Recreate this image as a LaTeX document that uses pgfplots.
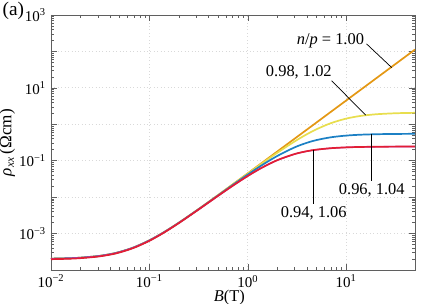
\documentclass[border=0pt]{standalone}
\usepackage{fontspec}
\setmainfont{Liberation Serif}
\usepackage{pgfplots}
\pgfplotsset{compat=1.18}
\definecolor{corange}{RGB}{228,152,20}
\definecolor{cyellow}{RGB}{232,222,78}
\definecolor{cblue}{RGB}{28,128,196}
\definecolor{cred}{RGB}{226,30,52}
\definecolor{cpurple}{RGB}{190,70,200}
\definecolor{cframe}{RGB}{95,95,95}
\begin{document}
\begin{tikzpicture}[font=\fontsize{11.5}{13}\selectfont]
\begin{axis}[name=ax,
  scale only axis, width=254.8pt, height=178.5pt,
  xmode=log, ymode=log,
  xmin=0.01, xmax=50, ymin=1e-4, ymax=1e3,
  axis line style={cframe, line width=0.6pt},
  tick style={cframe, line width=0.4pt},
  tick align=inside,
  major tick length=4pt, minor tick length=2pt,
  xtick={0.01,0.1,1,10},
  xticklabels={10\textsuperscript{−2},10\textsuperscript{−1},10\textsuperscript{0},10\textsuperscript{1}},
  ytick={1e-4,1e-3,1e-2,1e-1,1,10,100,1000},
  yticklabels={,10\textsuperscript{−3},,10\textsuperscript{−1},,10\textsuperscript{1},,10\textsuperscript{3}},
  ticklabel style={font=\fontsize{10.5}{12}\selectfont},
  grid=major,
  major grid style={gray!30, dotted, line width=0.5pt},
  xlabel={\textit{B}(T)},
  ylabel={\textit{ρ}\textsubscript{\textit{xx}}\,(Ωcm)},
  xlabel style={at={(ticklabel cs:0.49)}, yshift=5pt, font=\fontsize{11.5}{13}\selectfont},
  ylabel style={yshift=-4pt, font=\fontsize{12}{14}\selectfont},
  clip=true,
]
% n/p = 1.00
\addplot[corange, line width=1.2pt, smooth] coordinates {
(0.01,2.045e-4)(0.015,2.101e-4)(0.02,2.18e-4)(0.03,2.405e-4)(0.04,2.72e-4)(0.05,3.125e-4)(0.07,4.205e-4)(0.1,6.5e-4)(0.14,1.082e-3)(0.2,2.0e-3)(0.3,4.25e-3)(0.4,7.4e-3)(0.5,0.01145)(0.7,0.02225)(1,0.0452)(1.4,0.0884)(2,0.1802)(3,0.4052)(4,0.7202)(5,1.1252)(7,2.2052)(10,4.5002)(14,8.82)(20,18.0)(30,40.5)(40,72.0)(50,112.5)};
% 0.98, 1.02
\addplot[cyellow, line width=1.2pt, smooth] coordinates {
(0.01,2.045e-4)(0.015,2.101e-4)(0.02,2.18e-4)(0.03,2.405e-4)(0.04,2.72e-4)(0.05,3.125e-4)(0.07,4.205e-4)(0.1,6.5e-4)(0.14,1.082e-3)(0.2,1.999e-3)(0.3,4.248e-3)(0.4,7.395e-3)(0.5,0.01139)(0.7,0.02202)(1,0.04425)(1.4,0.08484)(2,0.166)(3,0.3397)(4,0.5364)(5,0.7328)(7,1.0759)(10,1.432)(14,1.697)(20,1.881)(30,1.997)(40,2.041)(50,2.062)};
% 0.96, 1.04
\addplot[cblue, line width=1.2pt, smooth] coordinates {
(0.01,2.045e-4)(0.015,2.101e-4)(0.02,2.18e-4)(0.03,2.405e-4)(0.04,2.72e-4)(0.05,3.124e-4)(0.07,4.203e-4)(0.1,6.495e-4)(0.14,1.080e-3)(0.2,1.993e-3)(0.3,4.219e-3)(0.4,7.304e-3)(0.5,0.01122)(0.7,0.02139)(1,0.04178)(1.4,0.07617)(2,0.1357)(3,0.2333)(4,0.3117)(5,0.3692)(7,0.4399)(10,0.4897)(14,0.5173)(20,0.5332)(30,0.5421)(40,0.5454)(50,0.5468)};
% 0.94, 1.06 (second line)
\addplot[cpurple, line width=1.0pt, smooth] coordinates {
(0.01,2.03e-4)(0.015,2.086e-4)(0.02,2.165e-4)(0.03,2.387e-4)(0.04,2.70e-4)(0.05,3.10e-4)(0.07,4.17e-4)(0.1,6.44e-4)(0.14,1.07e-3)(0.2,1.975e-3)(0.3,4.16e-3)(0.4,7.15e-3)(0.5,0.01090)(0.7,0.02032)(1,0.03802)(1.4,0.0647)(2,0.1035)(3,0.1523)(4,0.1823)(5,0.2006)(7,0.2199)(10,0.2318)(14,0.2378)(20,0.2412)(30,0.2431)(40,0.2436)(50,0.2440)};
% 0.94, 1.06
\addplot[cred, line width=1.2pt, smooth] coordinates {
(0.01,1.98e-4)(0.015,2.035e-4)(0.02,2.115e-4)(0.03,2.335e-4)(0.04,2.645e-4)(0.05,3.04e-4)(0.07,4.09e-4)(0.1,6.33e-4)(0.14,1.055e-3)(0.2,1.955e-3)(0.3,4.15e-3)(0.4,7.15e-3)(0.5,0.01092)(0.7,0.02041)(1,0.03819)(1.4,0.065)(2,0.1039)(3,0.1528)(4,0.1829)(5,0.2013)(7,0.2206)(10,0.2324)(14,0.2384)(20,0.2418)(30,0.2437)(40,0.2442)(50,0.2446)};
% annotations
\draw[black, line width=0.5pt] (axis cs:16.1,161) -- (axis cs:29,36);
\node[anchor=east, inner sep=1pt] at (axis cs:15.8,200) {\textit{n}/\textit{p} = 1.00};
\draw[black, line width=0.5pt] (axis cs:7.1,15.7) -- (axis cs:15.8,1.78);
\node[anchor=center, inner sep=1pt] at (axis cs:3.3,26) {0.98, 1.02};
\draw[black, line width=0.5pt] (axis cs:18.2,0.545) -- (axis cs:18.2,0.0274);
\node[anchor=north, inner sep=1pt] at (axis cs:18.2,0.026) {0.96, 1.04};
\draw[black, line width=0.5pt] (axis cs:4.68,0.2) -- (axis cs:4.68,0.0065);
\node[anchor=north, inner sep=1pt] at (axis cs:4.68,0.0062) {0.94, 1.06};
\end{axis}
\node[anchor=north west, inner sep=0pt, font=\fontsize{13.5}{15}\selectfont] at ([shift={(-34pt,9pt)}]ax.north west) {(a)};
\pgfresetboundingbox
\path[use as bounding box] ([shift={(-35.7pt,-23.8pt)}]ax.south west) rectangle ([shift={(7pt,10.5pt)}]ax.north east);
\end{tikzpicture}
\end{document}
